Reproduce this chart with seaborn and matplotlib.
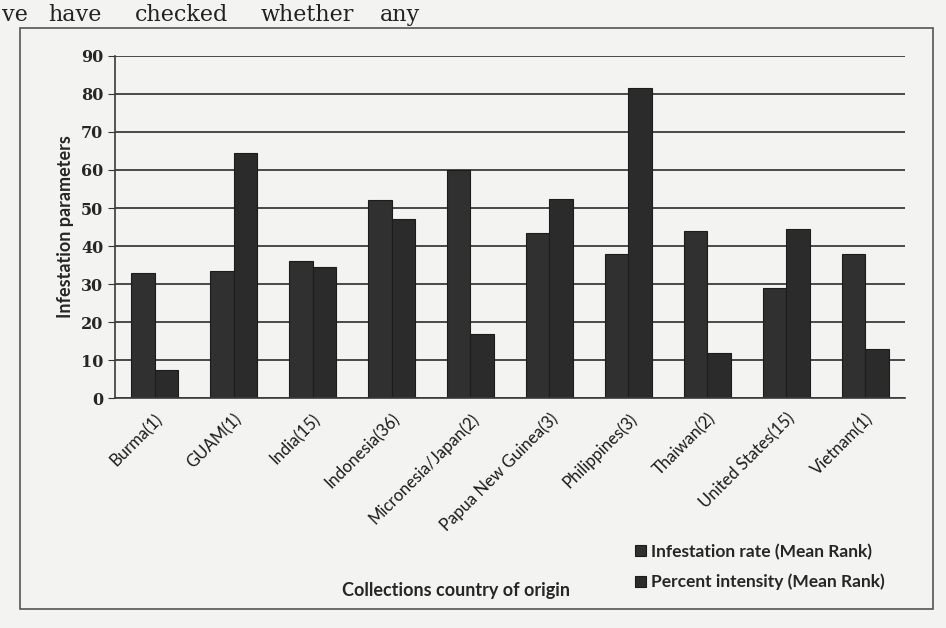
import pandas as pd
import seaborn as sns
import matplotlib.pyplot as plt
from matplotlib.patches import Rectangle

countries = ['Burma(1)', 'GUAM(1)', 'India(15)', 'Indonesia(36)', 'Micronesia/Japan(2)',
             'Papua New Guinea(3)', 'Philippines(3)', 'Thaiwan(2)', 'United States(15)', 'Vietnam(1)']
infestation = [33, 33.5, 36, 52, 60, 43.5, 38, 44, 29, 38]
intensity = [7.5, 64.5, 34.5, 47, 17, 52.5, 81.5, 12, 44.5, 13]
series_names = ['Infestation rate (Mean Rank)', 'Percent intensity (Mean Rank)']
page_words = ['ve', 'have', 'checked', 'whether', 'any']

df = pd.DataFrame({
    'country': countries * 2,
    'value': infestation + intensity,
    'series': [series_names[0]] * len(countries) + [series_names[1]] * len(countries),
})

sns.set_style('white')
plt.rcParams['font.family'] = ['Lato', 'DejaVu Sans']

bg = '#f3f3f1'

fig = plt.figure(figsize=(9.46, 6.28), dpi=100, facecolor=bg)
ax = fig.add_axes([0.1216, 0.366, 0.835, 0.545])
ax.set_facecolor(bg)

sns.barplot(data=df, x='country', y='value', hue='series', ax=ax, width=0.6,
            palette=['#303030', '#2b2b2b'], edgecolor='#1c1c1c', linewidth=0.8,
            saturation=1)

ax.set_ylim(0, 90)
ax.set_yticks(range(0, 91, 10))
ax.set_yticklabels([str(v) for v in range(0, 91, 10)], family='DejaVu Serif',
                   fontweight='bold', fontsize=11.5)
ax.yaxis.grid(True, color='#3c3c3c', linewidth=1.3)
ax.set_axisbelow(True)
ax.set_xlim(-0.5, len(countries) - 0.5)

ax.set_xticks([i - 0.5 for i in range(len(countries) + 1)], minor=True)
ax.set_xticks(range(len(countries)))
ax.set_xticklabels(countries, rotation=45, ha='right', rotation_mode='anchor',
                   fontsize=12, color='#1a1a1a')
ax.tick_params(axis='x', which='major', length=0, pad=9)
ax.tick_params(axis='x', which='minor', length=5, color='#333333', direction='out')
ax.tick_params(axis='y', length=5, color='#333333', direction='out', left=True)

for side in ['top', 'right']:
    ax.spines[side].set_visible(False)
for side in ['left', 'bottom']:
    ax.spines[side].set_color('#3a3a3a')
    ax.spines[side].set_linewidth(1.2)

ax.set_xlabel('')
ax.set_ylabel('Infestation parameters', fontsize=13, fontweight='bold', labelpad=5)

fig.text(0.482, 0.06, 'Collections country of origin', ha='center', va='center',
         fontsize=13, fontweight='bold')

handles, labels = ax.get_legend_handles_labels()
ax.legend_.remove()
fig.legend(handles, labels, loc='lower left', bbox_to_anchor=(0.655, 0.035),
           frameon=False, handlelength=0.6, handleheight=0.6, handletextpad=0.3,
           labelspacing=0.8, prop={'family': 'Lato', 'weight': 'bold', 'size': 12.5})

# chart frame and page text
fig.patches.append(Rectangle((0.021, 0.03), 0.965, 0.925, transform=fig.transFigure,
                             fill=False, edgecolor='#555555', linewidth=1.2))
for word, xpos in zip(page_words, [0.002, 0.051, 0.143, 0.275, 0.402]):
    fig.text(xpos, 0.966, word, ha='left', va='baseline',
             family='DejaVu Serif', fontsize=16, color='#222222')

fig.savefig('out.png', dpi=100, facecolor=bg)
